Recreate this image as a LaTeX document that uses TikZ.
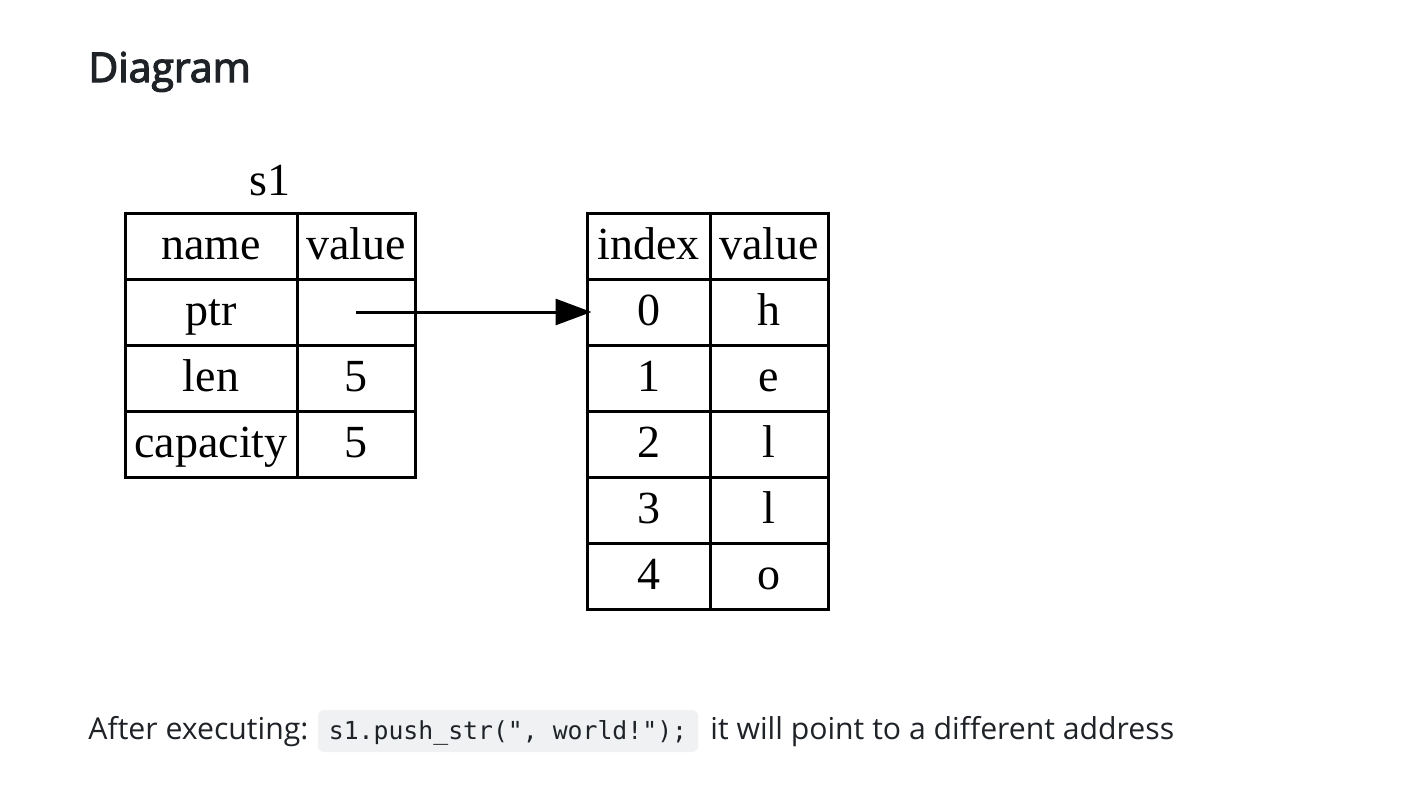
\documentclass[tikz,border=0pt]{standalone}
\usepackage{fontspec}
\setmainfont{Liberation Serif}
\newfontfamily\uifont{Open Sans}
\newfontfamily\headfont[FakeBold=3]{Open Sans}
\newfontfamily\codefont{DejaVu Sans Mono}
\usetikzlibrary{arrows.meta}
\definecolor{ink}{HTML}{1F2328}
\definecolor{codebg}{HTML}{EFF1F3}

\begin{document}
\begin{tikzpicture}[x=0.5pt,y=-0.5pt]
  \tikzstyle{cell}=[draw,rectangle,line width=1.5pt,inner sep=0pt,minimum height=33pt,font=\fontsize{23}{27}\selectfont,text height=13.5pt,text depth=0pt]
  \tikzstyle{namecol}=[cell,minimum width=86pt]
  \tikzstyle{idxcol}=[cell,minimum width=61.5pt]
  \tikzstyle{valcol}=[cell,minimum width=59pt]
  \tikzstyle{uitext}=[inner sep=0pt,anchor=base west,text=ink,font=\uifont\fontsize{15.1}{19}\selectfont]
  \fill[white] (0,0) rectangle (1412,793);
  \useasboundingbox (0,0) rectangle (1412,793);

  \node[uitext,font=\headfont\fontsize{20.5}{25}\selectfont] (title) at (88,82) {Diagram};

  \node[anchor=base,font=\fontsize{23}{27}\selectfont] (s1) at (270,195) {s1};
  \node[namecol] (s1_name) at (211,246) {name};
  \node[valcol] (s1_value) at (356,246) {value};
  \node[namecol] (s1_ptr) at (211,312) {ptr};
  \node[valcol] (s1_ptrval) at (356,312) {};
  \node[namecol] (s1_len) at (211,378) {len};
  \node[valcol] (s1_lenval) at (356,378) {5};
  \node[namecol] (s1_cap) at (211,444) {capacity};
  \node[valcol] (s1_capval) at (356,444) {5};

  \node[idxcol] (heap_index) at (648.5,246) {index};
  \node[valcol] (heap_value) at (769,246) {value};
  \node[idxcol] (heap_0) at (648.5,312) {0};
  \node[valcol] (heap_0v) at (769,312) {h};
  \node[idxcol] (heap_1) at (648.5,378) {1};
  \node[valcol] (heap_1v) at (769,378) {e};
  \node[idxcol] (heap_2) at (648.5,444) {2};
  \node[valcol] (heap_2v) at (769,444) {l};
  \node[idxcol] (heap_3) at (648.5,510) {3};
  \node[valcol] (heap_3v) at (769,510) {l};
  \node[idxcol] (heap_4) at (648.5,576) {4};
  \node[valcol] (heap_4v) at (769,576) {o};

  \draw[-{Triangle[length=18pt,width=13pt]},line width=1.5pt] (s1_ptrval.center) -- ([xshift=3pt]heap_0.west);

  \node[uitext] (after) at (88,739) {After executing:};
  \node[fill=codebg,rounded corners=3pt,minimum width=190pt,minimum height=21pt,inner sep=0pt,text=ink,font=\codefont\fontsize{12.4}{15}\selectfont,text height=9pt,text depth=1pt] (code) at (508,731) {s1.push\_str(", world!");};
  \node[uitext] (rest) at (710,739) {it will point to a different address};
\end{tikzpicture}
\end{document}
